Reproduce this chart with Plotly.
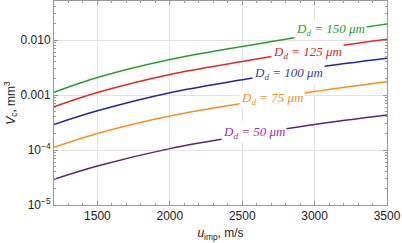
import plotly.graph_objects as go

u_imp = [1200, 1500, 2000, 2500, 3000, 3500]
V_150 = [1.12e-3, 2.08e-3, 4.42e-3, 7.62e-3, 1.26e-2, 1.95e-2]
V_125 = [6.12e-4, 1.11e-3, 2.36e-3, 4.06e-3, 6.72e-3, 1.03e-2]
V_100 = [2.91e-4, 5.16e-4, 1.10e-3, 1.89e-3, 3.13e-3, 4.67e-3]
V_75 = [1.12e-4, 2.00e-4, 4.15e-4, 7.10e-4, 1.16e-3, 1.75e-3]
V_50 = [2.93e-5, 5.12e-5, 1.06e-4, 1.80e-4, 2.91e-4, 4.33e-4]

labels = ["150", "125", "100", "75", "50"]
label_u = [3113, 2954, 2823, 2706, 2581]
label_logV = [-1.81, -2.22, -2.60, -3.055, -3.69]

series = [V_150, V_125, V_100, V_75, V_50]
line_colors = ["#2a9e2a", "#ec2424", "#24249c", "#ff8c1e", "#5a2868"]
label_colors = ["#2a9e2a", "#ec2424", "#3a3ab0", "#ff8c1e", "#a030a8"]

y_tickvals = [1e-5, 1e-4, 1e-3, 1e-2]
y_ticktext = ["10<sup>\u22125</sup>", "10<sup>\u22124</sup>", "0.001", "0.010"]
x_tickvals = [1500, 2000, 2500, 3000, 3500]

fig = go.Figure()
for vals, c in zip(series, line_colors):
    fig.add_trace(go.Scatter(x=u_imp, y=vals, mode="lines",
                             line=dict(color=c, width=1.5, shape="spline"),
                             showlegend=False, hoverinfo="skip"))

for lab, xu, ly, c in zip(labels, label_u, label_logV, label_colors):
    fig.add_annotation(x=xu, y=ly, xref="x", yref="y",
                       text=f"<i>D</i><sub><i>d</i></sub><i> = {lab} \u03bcm</i>",
                       showarrow=False, bgcolor="white",
                       font=dict(family="Liberation Serif, Times New Roman, serif", size=13, color=c),
                       borderpad=1)

minor_y = []
for d in [1e-5, 1e-4, 1e-3, 1e-2]:
    for m in range(2, 10):
        v = d * m
        if v < 0.05:
            minor_y.append(v)

axis_common = dict(showline=True, linecolor="#999999", linewidth=1, mirror="ticks",
                   ticks="inside", tickcolor="#999999", ticklen=4,
                   gridcolor="#e2e2e2", gridwidth=1, zeroline=False,
                   tickfont=dict(family="Liberation Sans, Arial, sans-serif", size=12, color="#222222"))

fig.update_layout(
    width=402, height=243,
    margin=dict(l=54, r=15, t=1, b=38),
    paper_bgcolor="white", plot_bgcolor="white",
    xaxis=dict(range=[1200, 3500], tickvals=x_tickvals,
               minor=dict(ticks="inside", ticklen=2, tickcolor="#999999", dtick=100, showgrid=False),
               title=dict(text="<i>u</i><sub>imp</sub>, m/s", standoff=6,
                          font=dict(family="Liberation Sans, Arial, sans-serif", size=12, color="#222222")),
               **axis_common),
    yaxis=dict(type="log", range=[-5, -1.29], tickvals=y_tickvals, ticktext=y_ticktext,
               minor=dict(ticks="inside", ticklen=2, tickcolor="#999999", tickvals=minor_y, showgrid=False),
               title=dict(text="<i>V</i><sub>c</sub>, mm<sup>3</sup>", standoff=2,
                          font=dict(family="Liberation Sans, Arial, sans-serif", size=12, color="#222222")),
               **axis_common),
)

fig.write_html("out.html", config={"displayModeBar": False},
               post_script="document.body.style.margin='0';document.body.style.overflow='hidden';")
